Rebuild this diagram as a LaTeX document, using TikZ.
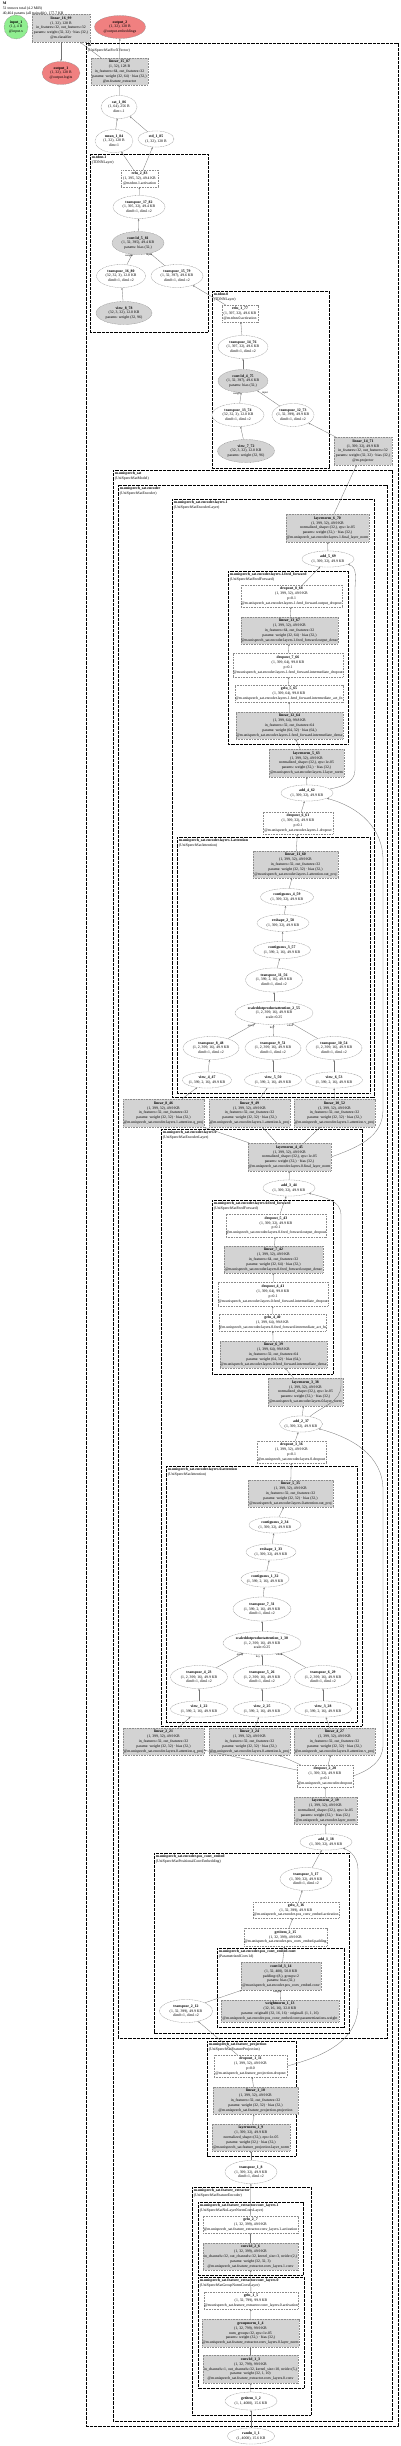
\documentclass[tikz,border=0pt]{standalone}
\usepackage{fontspec}
\setmainfont{Liberation Serif}
\usetikzlibrary{shapes.geometric,arrows.meta}
\definecolor{outred}{HTML}{F08080}
\definecolor{ingreen}{HTML}{90EE90}
\definecolor{modgray}{HTML}{D3D3D3}
\newcommand\T[1]{\makebox[0pt]{\begin{tabular}{@{}c@{}}#1\end{tabular}}}
\catcode`\_=12
\begin{document}
\begin{tikzpicture}[x=1pt,y=-1pt,
  font=\fontsize{3.8}{4.9}\selectfont,
  nb/.style={draw=black!45, dash pattern=on 1pt off 0.6pt, line width=0.3pt, inner sep=0.8pt},
  fn/.style={nb, ellipse, fill=white},
  fng/.style={nb, ellipse, fill=modgray},
  mb/.style={nb, rectangle, fill=white},
  mbg/.style={nb, rectangle, fill=modgray},
  outn/.style={nb, ellipse, fill=outred},
  inn/.style={nb, ellipse, fill=ingreen},
  clus/.style={draw=black, line width=0.65pt, dash pattern=on 0.8pt off 0.5pt},
  clab/.style={anchor=north west, align=left, inner sep=0.6pt},
  edg/.style={draw=black!55, line width=0.3pt, -{Stealth[length=2pt,width=1.6pt]}},
  elab/.style={font=\fontsize{2.8}{3}\selectfont, inner sep=0}]
\useasboundingbox (0,0) rectangle (400,2446);

% ---------- clusters ----------
\draw[clus] (86,43) rectangle (398,2426);
\node[clab] (lab_m) at (87,44) {\textbf{m}\\(UniSpeechSatForXVector)};
\draw[clus] (90,154) rectangle (208,332);
\node[clab] (lab_tdnn1) at (91,155) {\textbf{m.tdnn.1}\\(TDNNLayer)};
\draw[clus] (212,291) rectangle (329,468);
\node[clab] (lab_tdnn0) at (213,292) {\textbf{m.tdnn.0}\\(TDNNLayer)};
\draw[clus] (113,470) rectangle (392,2421);
\node[clab] (lab_us) at (114,471) {\textbf{m.unispeech_sat}\\(UniSpeechSatModel)};
\draw[clus] (118,485) rectangle (387,2038);
\node[clab] (lab_enc) at (119,486) {\textbf{m.unispeech_sat.encoder}\\(UniSpeechSatEncoder)};
\draw[clus] (172,499) rectangle (374,1097);
\node[clab] (lab_l1) at (173,500) {\textbf{m.unispeech_sat.encoder.layers.1}\\(UniSpeechSatEncoderLayer)};
\draw[clus] (228,571) rectangle (348,744);
\node[clab] (lab_l1ff) at (229,572) {\textbf{m.unispeech_sat.encoder.layers.1.feed_forward}\\(UniSpeechSatFeedForward)};
\draw[clus] (177,837) rectangle (370,1093);
\node[clab] (lab_l1at) at (178,838) {\textbf{m.unispeech_sat.encoder.layers.1.attention}\\(UniSpeechSatAttention)};
\draw[clus] (161,1129) rectangle (362,1726);
\node[clab] (lab_l0) at (162,1130) {\textbf{m.unispeech_sat.encoder.layers.0}\\(UniSpeechSatEncoderLayer)};
\draw[clus] (212,1200) rectangle (333,1374);
\node[clab] (lab_l0ff) at (213,1201) {\textbf{m.unispeech_sat.encoder.layers.0.feed_forward}\\(UniSpeechSatFeedForward)};
\draw[clus] (166,1466) rectangle (357,1722);
\node[clab] (lab_l0at) at (167,1467) {\textbf{m.unispeech_sat.encoder.layers.0.attention}\\(UniSpeechSatAttention)};
\draw[clus] (154,1853) rectangle (349,2033);
\node[clab] (lab_pos) at (155,1854) {\textbf{m.unispeech_sat.encoder.pos_conv_embed}\\(UniSpeechSatPositionalConvEmbedding)};
\draw[clus] (217,1948) rectangle (344,2027);
\node[clab] (lab_posc) at (218,1949) {\textbf{m.unispeech_sat.encoder.pos_conv_embed.conv}\\(ParametrizedConv1d)};
\draw[clus] (207,2041) rectangle (296,2156);
\node[clab] (lab_fp) at (208,2042) {\textbf{m.unispeech_sat.feature_projection}\\(UniSpeechSatFeatureProjection)};
\draw[clus] (192,2187) rectangle (311,2415);
\node[clab] (lab_fe) at (193,2188) {\textbf{m.unispeech_sat.feature_extractor}\\(UniSpeechSatFeatureEncoder)};
\draw[clus] (198,2202) rectangle (303,2275);
\node[clab] (lab_cl1) at (199,2203) {\textbf{m.unispeech_sat.feature_extractor.conv_layers.1}\\(UniSpeechSatNoLayerNormConvLayer)};
\draw[clus] (198,2277) rectangle (304,2388);
\node[clab] (lab_cl0) at (199,2278) {\textbf{m.unispeech_sat.feature_extractor.conv_layers.0}\\(UniSpeechSatGroupNormConvLayer)};

\node[clab] (title) at (2,1) {\textbf{M}\\51 tensors total (4.2 MiB)\\40,464 params (all trainable), 177.7 KB};

% ---------- top ----------
\node[inn, minimum width=24, minimum height=24] (input_1) at (16,27) {\T{\textbf{input_1}\\(1,), 4 B\\@input.x}};
\node[mbg, minimum width=58, minimum height=28] (linear_16_99) at (61,28) {\T{\textbf{linear_16_99}\\(1, 32), 128 B\\in_features=32, out_features=32\\params: weight (32, 32) · bias (32,)\\@m.classifier}};
\node[outn, minimum width=51, minimum height=22] (output_2) at (120,27) {\T{\textbf{output_2}\\(1, 32), 128 B\\@output.embeddings}};
\node[outn, minimum width=38, minimum height=22] (output_1) at (61,73) {\T{\textbf{output_1}\\(1, 32), 128 B\\@output.logits}};
\node[mbg, minimum width=57, minimum height=27] (linear_15_87) at (119.5,71.5) {\T{\textbf{linear_15_87}\\(1, 32), 128 B\\in_features=64, out_features=32\\params: weight (32, 64) · bias (32,)\\@m.feature_extractor}};
\node[fn, minimum width=36, minimum height=23] (cat_1_86) at (119,107) {\T{\textbf{cat_1_86}\\(1, 64), 256 B\\dim=-1}};
\node[fn, minimum width=38, minimum height=23] (mean_1_84) at (114,141) {\T{\textbf{mean_1_84}\\(1, 32), 128 B\\dim=1}};
\node[fn, minimum width=36, minimum height=16] (std_1_85) at (156,139) {\T{\textbf{std_1_85}\\(1, 32), 128 B}};

% ---------- tdnn ----------
\node[mb, minimum width=37, minimum height=17] (relu_2_83) at (139.5,178.5) {\T{\textbf{relu_2_83}\\(1, 395, 32), 49.4 KB\\@m.tdnn.1.activation}};
\node[fn, minimum width=52, minimum height=22] (transpose_17_82) at (139,207) {\T{\textbf{transpose_17_82}\\(1, 395, 32), 49.4 KB\\dim0=1, dim1=2}};
\node[fng, minimum width=52, minimum height=22] (conv1d_5_81) at (138,243) {\T{\textbf{conv1d_5_81}\\(1, 32, 395), 49.4 KB\\params: bias (32,)}};
\node[fn, minimum width=49, minimum height=22] (transpose_16_80) at (121,276) {\T{\textbf{transpose_16_80}\\(32, 32, 3), 12.0 KB\\dim0=1, dim1=2}};
\node[fn, minimum width=52, minimum height=22] (transpose_15_79) at (177,276) {\T{\textbf{transpose_15_79}\\(1, 32, 397), 49.6 KB\\dim0=1, dim1=2}};
\node[fng, minimum width=56, minimum height=22] (view_8_78) at (124,313) {\T{\textbf{view_8_78}\\(32, 3, 32), 12.0 KB\\params: weight (32, 96)}};
\node[mb, minimum width=36, minimum height=17] (relu_1_77) at (240,313.5) {\T{\textbf{relu_1_77}\\(1, 397, 32), 49.6 KB\\@m.tdnn.0.activation}};
\node[fn, minimum width=50, minimum height=22] (transpose_14_76) at (243,347) {\T{\textbf{transpose_14_76}\\(1, 397, 32), 49.6 KB\\dim0=1, dim1=2}};
\node[fng, minimum width=50, minimum height=22] (conv1d_4_75) at (243,381) {\T{\textbf{conv1d_4_75}\\(1, 32, 397), 49.6 KB\\params: bias (32,)}};
\node[fn, minimum width=52, minimum height=21] (transpose_13_74) at (238,415) {\T{\textbf{transpose_13_74}\\(32, 32, 3), 12.0 KB\\dim0=1, dim1=2}};
\node[fn, minimum width=42, minimum height=21] (transpose_12_73) at (293,415) {\T{\textbf{transpose_12_73}\\(1, 32, 399), 49.9 KB\\dim0=1, dim1=2}};
\node[fng, minimum width=57, minimum height=23] (view_7_72) at (246,451) {\T{\textbf{view_7_72}\\(32, 3, 32), 12.0 KB\\params: weight (32, 96)}};
\node[mbg, minimum width=58, minimum height=28] (linear_14_71) at (363,451) {\T{\textbf{linear_14_71}\\(1, 399, 32), 49.9 KB\\in_features=32, out_features=32\\params: weight (32, 32) · bias (32,)\\@m.projector}};

% ---------- layers.1 ----------
\node[mbg, minimum width=83, minimum height=28] (layernorm_6_70) at (327.5,528) {\T{\textbf{layernorm_6_70}\\(1, 399, 32), 49.9 KB\\normalized_shape=(32,), eps=1e-05\\params: weight (32,) · bias (32,)\\@m.unispeech_sat.encoder.layers.1.final_layer_norm}};
\node[fn, minimum width=52, minimum height=14] (add_5_69) at (328,559) {\T{\textbf{add_5_69}\\(1, 399, 32), 49.9 KB}};
\node[mb, minimum width=101, minimum height=22] (dropout_8_68) at (291.5,596) {\T{\textbf{dropout_8_68}\\(1, 399, 32), 49.9 KB\\p=0.1\\@m.unispeech_sat.encoder.layers.1.feed_forward.output_dropout}};
\node[mbg, minimum width=97, minimum height=27] (linear_13_67) at (289.5,630.5) {\T{\textbf{linear_13_67}\\(1, 399, 32), 49.9 KB\\in_features=64, out_features=32\\params: weight (32, 64) · bias (32,)\\@m.unispeech_sat.encoder.layers.1.feed_forward.output_dense}};
\node[mb, minimum width=110, minimum height=24] (dropout_7_66) at (288,665) {\T{\textbf{dropout_7_66}\\(1, 399, 64), 99.8 KB\\p=0.1\\@m.unispeech_sat.encoder.layers.1.feed_forward.intermediate_dropout}};
\node[mb, minimum width=108, minimum height=17] (gelu_5_65) at (289,693.5) {\T{\textbf{gelu_5_65}\\(1, 399, 64), 99.8 KB\\@m.unispeech_sat.encoder.layers.1.feed_forward.intermediate_act_fn}};
\node[mbg, minimum width=107, minimum height=27] (linear_12_64) at (289.5,725.5) {\T{\textbf{linear_12_64}\\(1, 399, 64), 99.8 KB\\in_features=32, out_features=64\\params: weight (64, 32) · bias (64,)\\@m.unispeech_sat.encoder.layers.1.feed_forward.intermediate_dense}};
\node[mbg, minimum width=75, minimum height=28] (layernorm_5_63) at (306.5,763) {\T{\textbf{layernorm_5_63}\\(1, 399, 32), 49.9 KB\\normalized_shape=(32,), eps=1e-05\\params: weight (32,) · bias (32,)\\@m.unispeech_sat.encoder.layers.1.layer_norm}};
\node[fn, minimum width=52, minimum height=15] (add_4_62) at (307,793) {\T{\textbf{add_4_62}\\(1, 399, 32), 49.9 KB}};
\node[mb, minimum width=70, minimum height=22] (dropout_6_61) at (298,823) {\T{\textbf{dropout_6_61}\\(1, 399, 32), 49.9 KB\\p=0.1\\@m.unispeech_sat.encoder.layers.1.dropout}};
\node[mbg, minimum width=85, minimum height=27] (linear_11_60) at (295.5,864.5) {\T{\textbf{linear_11_60}\\(1, 399, 32), 49.9 KB\\in_features=32, out_features=32\\params: weight (32, 32) · bias (32,)\\@m.unispeech_sat.encoder.layers.1.attention.out_proj}};
\node[fn, minimum width=53, minimum height=17] (contiguous_4_59) at (287,897) {\T{\textbf{contiguous_4_59}\\(1, 399, 32), 49.9 KB}};
\node[fn, minimum width=52, minimum height=17] (reshape_2_58) at (283,923) {\T{\textbf{reshape_2_58}\\(1, 399, 32), 49.9 KB}};
\node[fn, minimum width=57, minimum height=17] (contiguous_3_57) at (282,950) {\T{\textbf{contiguous_3_57}\\(1, 399, 2, 16), 49.9 KB}};
\node[fn, minimum width=57, minimum height=24] (transpose_11_56) at (274,980) {\T{\textbf{transpose_11_56}\\(1, 399, 2, 16), 49.9 KB\\dim0=1, dim1=2}};
\node[fn, minimum width=78, minimum height=23] (sdpa_2_55) at (274,1013) {\T{\textbf{scaleddotproductattention_2_55}\\(1, 2, 399, 16), 49.9 KB\\scale=0.25}};
\node[fn, minimum width=56, minimum height=22] (transpose_8_48) at (211,1048) {\T{\textbf{transpose_8_48}\\(1, 2, 399, 16), 49.9 KB\\dim0=1, dim1=2}};
\node[fn, minimum width=56, minimum height=22] (transpose_9_51) at (273,1048) {\T{\textbf{transpose_9_51}\\(1, 2, 399, 16), 49.9 KB\\dim0=1, dim1=2}};
\node[fn, minimum width=56, minimum height=22] (transpose_10_54) at (334,1048) {\T{\textbf{transpose_10_54}\\(1, 2, 399, 16), 49.9 KB\\dim0=1, dim1=2}};
\node[fn, minimum width=49, minimum height=16] (view_4_47) at (207,1080) {\T{\textbf{view_4_47}\\(1, 399, 2, 16), 49.9 KB}};
\node[fn, minimum width=57, minimum height=16] (view_5_50) at (273,1080) {\T{\textbf{view_5_50}\\(1, 399, 2, 16), 49.9 KB}};
\node[fn, minimum width=57, minimum height=16] (view_6_53) at (334,1080) {\T{\textbf{view_6_53}\\(1, 399, 2, 16), 49.9 KB}};
\node[mbg, minimum width=81, minimum height=28] (linear_8_46) at (163.5,1113) {\T{\textbf{linear_8_46}\\(1, 399, 32), 49.9 KB\\in_features=32, out_features=32\\params: weight (32, 32) · bias (32,)\\@m.unispeech_sat.encoder.layers.1.attention.q_proj}};
\node[mbg, minimum width=81, minimum height=28] (linear_9_49) at (249.5,1113) {\T{\textbf{linear_9_49}\\(1, 399, 32), 49.9 KB\\in_features=32, out_features=32\\params: weight (32, 32) · bias (32,)\\@m.unispeech_sat.encoder.layers.1.attention.k_proj}};
\node[mbg, minimum width=81, minimum height=28] (linear_10_52) at (334.5,1113) {\T{\textbf{linear_10_52}\\(1, 399, 32), 49.9 KB\\in_features=32, out_features=32\\params: weight (32, 32) · bias (32,)\\@m.unispeech_sat.encoder.layers.1.attention.v_proj}};

% ---------- layers.0 ----------
\node[mbg, minimum width=83, minimum height=28] (layernorm_4_45) at (289.5,1157) {\T{\textbf{layernorm_4_45}\\(1, 399, 32), 49.9 KB\\normalized_shape=(32,), eps=1e-05\\params: weight (32,) · bias (32,)\\@m.unispeech_sat.encoder.layers.0.final_layer_norm}};
\node[fn, minimum width=52, minimum height=15] (add_3_44) at (289,1188) {\T{\textbf{add_3_44}\\(1, 399, 32), 49.9 KB}};
\node[mb, minimum width=100, minimum height=23] (dropout_5_43) at (276,1225.5) {\T{\textbf{dropout_5_43}\\(1, 399, 32), 49.9 KB\\p=0.1\\@m.unispeech_sat.encoder.layers.0.feed_forward.output_dropout}};
\node[mbg, minimum width=99, minimum height=27] (linear_7_42) at (273.5,1259.5) {\T{\textbf{linear_7_42}\\(1, 399, 32), 49.9 KB\\in_features=64, out_features=32\\params: weight (32, 64) · bias (32,)\\@m.unispeech_sat.encoder.layers.0.feed_forward.output_dense}};
\node[mb, minimum width=110, minimum height=24] (dropout_4_41) at (273,1294) {\T{\textbf{dropout_4_41}\\(1, 399, 64), 99.8 KB\\p=0.1\\@m.unispeech_sat.encoder.layers.0.feed_forward.intermediate_dropout}};
\node[mb, minimum width=107, minimum height=17] (gelu_4_40) at (272.5,1322.5) {\T{\textbf{gelu_4_40}\\(1, 399, 64), 99.8 KB\\@m.unispeech_sat.encoder.layers.0.feed_forward.intermediate_act_fn}};
\node[mbg, minimum width=107, minimum height=27] (linear_6_39) at (273.5,1354.5) {\T{\textbf{linear_6_39}\\(1, 399, 64), 99.8 KB\\in_features=32, out_features=64\\params: weight (64, 32) · bias (64,)\\@m.unispeech_sat.encoder.layers.0.feed_forward.intermediate_dense}};
\node[mbg, minimum width=75, minimum height=28] (layernorm_3_38) at (305.5,1392) {\T{\textbf{layernorm_3_38}\\(1, 399, 32), 49.9 KB\\normalized_shape=(32,), eps=1e-05\\params: weight (32,) · bias (32,)\\@m.unispeech_sat.encoder.layers.0.layer_norm}};
\node[fn, minimum width=43, minimum height=15] (add_2_37) at (301,1424) {\T{\textbf{add_2_37}\\(1, 399, 32), 49.9 KB}};
\node[mb, minimum width=69, minimum height=22] (dropout_3_36) at (291.5,1452) {\T{\textbf{dropout_3_36}\\(1, 399, 32), 49.9 KB\\p=0.1\\@m.unispeech_sat.encoder.layers.0.dropout}};
\node[mbg, minimum width=85, minimum height=27] (linear_5_35) at (290.5,1493.5) {\T{\textbf{linear_5_35}\\(1, 399, 32), 49.9 KB\\in_features=32, out_features=32\\params: weight (32, 32) · bias (32,)\\@m.unispeech_sat.encoder.layers.0.attention.out_proj}};
\node[fn, minimum width=52, minimum height=16] (contiguous_2_34) at (275,1525) {\T{\textbf{contiguous_2_34}\\(1, 399, 32), 49.9 KB}};
\node[fn, minimum width=50, minimum height=16] (reshape_1_33) at (271,1552) {\T{\textbf{reshape_1_33}\\(1, 399, 32), 49.9 KB}};
\node[fn, minimum width=48, minimum height=16] (contiguous_1_32) at (265,1579) {\T{\textbf{contiguous_1_32}\\(1, 399, 2, 16), 49.9 KB}};
\node[fn, minimum width=58, minimum height=24] (transpose_7_31) at (262,1609) {\T{\textbf{transpose_7_31}\\(1, 399, 2, 16), 49.9 KB\\dim0=1, dim1=2}};
\node[fn, minimum width=78, minimum height=23] (sdpa_1_30) at (262,1643) {\T{\textbf{scaleddotproductattention_1_30}\\(1, 2, 399, 16), 49.9 KB\\scale=0.25}};
\node[fn, minimum width=57, minimum height=21] (transpose_4_23) at (199,1677) {\T{\textbf{transpose_4_23}\\(1, 2, 399, 16), 49.9 KB\\dim0=1, dim1=2}};
\node[fn, minimum width=57, minimum height=21] (transpose_5_26) at (262,1677) {\T{\textbf{transpose_5_26}\\(1, 2, 399, 16), 49.9 KB\\dim0=1, dim1=2}};
\node[fn, minimum width=57, minimum height=21] (transpose_6_29) at (323,1677) {\T{\textbf{transpose_6_29}\\(1, 2, 399, 16), 49.9 KB\\dim0=1, dim1=2}};
\node[fn, minimum width=57, minimum height=15] (view_1_22) at (199,1709) {\T{\textbf{view_1_22}\\(1, 399, 2, 16), 49.9 KB}};
\node[fn, minimum width=57, minimum height=15] (view_2_25) at (262,1709) {\T{\textbf{view_2_25}\\(1, 399, 2, 16), 49.9 KB}};
\node[fn, minimum width=57, minimum height=15] (view_3_28) at (323,1709) {\T{\textbf{view_3_28}\\(1, 399, 2, 16), 49.9 KB}};
\node[mbg, minimum width=81, minimum height=27] (linear_2_21) at (163.5,1741.5) {\T{\textbf{linear_2_21}\\(1, 399, 32), 49.9 KB\\in_features=32, out_features=32\\params: weight (32, 32) · bias (32,)\\@m.unispeech_sat.encoder.layers.0.attention.q_proj}};
\node[mbg, minimum width=81, minimum height=27] (linear_3_24) at (249.5,1741.5) {\T{\textbf{linear_3_24}\\(1, 399, 32), 49.9 KB\\in_features=32, out_features=32\\params: weight (32, 32) · bias (32,)\\@m.unispeech_sat.encoder.layers.0.attention.k_proj}};
\node[mbg, minimum width=81, minimum height=27] (linear_4_27) at (334.5,1741.5) {\T{\textbf{linear_4_27}\\(1, 399, 32), 49.9 KB\\in_features=32, out_features=32\\params: weight (32, 32) · bias (32,)\\@m.unispeech_sat.encoder.layers.0.attention.v_proj}};

% ---------- encoder front ----------
\node[mb, minimum width=56, minimum height=22] (dropout_2_20) at (325,1776) {\T{\textbf{dropout_2_20}\\(1, 399, 32), 49.9 KB\\p=0.1\\@m.unispeech_sat.encoder.dropout}};
\node[mbg, minimum width=63, minimum height=27] (layernorm_2_19) at (325.5,1810.5) {\T{\textbf{layernorm_2_19}\\(1, 399, 32), 49.9 KB\\normalized_shape=(32,), eps=1e-05\\params: weight (32,) · bias (32,)\\@m.unispeech_sat.encoder.layer_norm}};
\node[fn, minimum width=52, minimum height=15] (add_1_18) at (326,1842) {\T{\textbf{add_1_18}\\(1, 399, 32), 49.9 KB}};
\node[fn, minimum width=52, minimum height=22] (transpose_3_17) at (306,1879) {\T{\textbf{transpose_3_17}\\(1, 399, 32), 49.9 KB\\dim0=1, dim1=2}};
\node[mb, minimum width=86, minimum height=16] (gelu_3_16) at (296,1910) {\T{\textbf{gelu_3_16}\\(1, 32, 399), 49.9 KB\\@m.unispeech_sat.encoder.pos_conv_embed.activation}};
\node[mb, minimum width=83, minimum height=18] (getitem_2_15) at (285.5,1937) {\T{\textbf{getitem_2_15}\\(1, 32, 399), 49.9 KB\\@m.unispeech_sat.encoder.pos_conv_embed.padding}};
\node[mbg, minimum width=80, minimum height=28] (conv1d_3_14) at (281,1976) {\T{\textbf{conv1d_3_14}\\(1, 32, 400), 50.0 KB\\padding=(8,), groups=2\\params: bias (32,)\\@m.unispeech_sat.encoder.pos_conv_embed.conv}};
\node[mbg, minimum width=118, minimum height=22] (weightnorm_1_13) at (280,2011) {\T{\textbf{weightnorm_1_13}\\(32, 16, 16), 32.0 KB\\params: original0 (32, 16, 16) · original1 (1, 1, 16)\\@m.unispeech_sat.encoder.pos_conv_embed.conv.parametrizations.weight}};
\node[fn, minimum width=53, minimum height=22] (transpose_2_12) at (186,2011) {\T{\textbf{transpose_2_12}\\(1, 32, 399), 49.9 KB\\dim0=1, dim1=2}};

% ---------- feature projection / extractor ----------
\node[mb, minimum width=73, minimum height=22] (dropout_1_11) at (250.5,2066) {\T{\textbf{dropout_1_11}\\(1, 399, 32), 49.9 KB\\p=0.0\\@m.unispeech_sat.feature_projection.dropout}};
\node[mbg, minimum width=85, minimum height=27] (linear_1_10) at (255.5,2100.5) {\T{\textbf{linear_1_10}\\(1, 399, 32), 49.9 KB\\in_features=32, out_features=32\\params: weight (32, 32) · bias (32,)\\@m.unispeech_sat.feature_projection.projection}};
\node[mbg, minimum width=78, minimum height=27] (layernorm_1_9) at (251,2137.5) {\T{\textbf{layernorm_1_9}\\(1, 399, 32), 49.9 KB\\normalized_shape=(32,), eps=1e-05\\params: weight (32,) · bias (32,)\\@m.unispeech_sat.feature_projection.layer_norm}};
\node[fn, minimum width=52, minimum height=23] (transpose_1_8) at (251,2172) {\T{\textbf{transpose_1_8}\\(1, 399, 32), 49.9 KB\\dim0=1, dim1=2}};
\node[mb, minimum width=95, minimum height=17] (gelu_2_7) at (250.5,2224.5) {\T{\textbf{gelu_2_7}\\(1, 32, 399), 49.9 KB\\@m.unispeech_sat.feature_extractor.conv_layers.1.activation}};
\node[mbg, minimum width=95, minimum height=27] (conv1d_2_6) at (250.5,2256.5) {\T{\textbf{conv1d_2_6}\\(1, 32, 399), 49.9 KB\\in_channels=32, out_channels=32, kernel_size=3, stride=(2,)\\params: weight (32, 32, 3)\\@m.unispeech_sat.feature_extractor.conv_layers.1.conv}};
\node[mb, minimum width=94, minimum height=17] (gelu_1_5) at (251,2300.5) {\T{\textbf{gelu_1_5}\\(1, 32, 799), 99.9 KB\\@m.unispeech_sat.feature_extractor.conv_layers.0.activation}};
\node[mbg, minimum width=97, minimum height=28] (groupnorm_1_4) at (250.5,2333) {\T{\textbf{groupnorm_1_4}\\(1, 32, 799), 99.9 KB\\num_groups=32, eps=1e-05\\params: weight (32,) · bias (32,)\\@m.unispeech_sat.feature_extractor.conv_layers.0.layer_norm}};
\node[mbg, minimum width=95, minimum height=28] (conv1d_1_3) at (250.5,2369) {\T{\textbf{conv1d_1_3}\\(1, 32, 799), 99.9 KB\\in_channels=1, out_channels=32, kernel_size=10, stride=(5,)\\params: weight (32, 1, 10)\\@m.unispeech_sat.feature_extractor.conv_layers.0.conv}};
\node[fn, minimum width=52, minimum height=18] (getitem_1_2) at (251,2401) {\T{\textbf{getitem_1_2}\\(1, 1, 4000), 15.6 KB}};
\node[fn, minimum width=47, minimum height=16] (randn_1_1) at (251,2436) {\T{\textbf{randn_1_1}\\(1, 4000), 15.6 KB}};

% ---------- edges ----------
\foreach \a/\b in {linear_15_87/output_2, linear_15_87/linear_16_99, linear_16_99/output_1,
  cat_1_86/linear_15_87, mean_1_84/cat_1_86, std_1_85/cat_1_86, relu_2_83/mean_1_84, relu_2_83/std_1_85,
  transpose_17_82/relu_2_83, conv1d_5_81/transpose_17_82, transpose_16_80/conv1d_5_81, transpose_15_79/conv1d_5_81,
  view_8_78/transpose_16_80, relu_1_77/transpose_15_79, transpose_14_76/relu_1_77, conv1d_4_75/transpose_14_76,
  transpose_13_74/conv1d_4_75, transpose_12_73/conv1d_4_75, view_7_72/transpose_13_74, linear_14_71/transpose_12_73,
  layernorm_6_70/linear_14_71, add_5_69/layernorm_6_70, dropout_8_68/add_5_69, linear_13_67/dropout_8_68,
  dropout_7_66/linear_13_67, gelu_5_65/dropout_7_66, linear_12_64/gelu_5_65, layernorm_5_63/linear_12_64,
  add_4_62/layernorm_5_63, dropout_6_61/add_4_62, linear_11_60/dropout_6_61, contiguous_4_59/linear_11_60,
  reshape_2_58/contiguous_4_59, contiguous_3_57/reshape_2_58, transpose_11_56/contiguous_3_57, sdpa_2_55/transpose_11_56,
  transpose_8_48/sdpa_2_55, transpose_9_51/sdpa_2_55, transpose_10_54/sdpa_2_55,
  view_4_47/transpose_8_48, view_5_50/transpose_9_51, view_6_53/transpose_10_54,
  linear_8_46/view_4_47, linear_9_49/view_5_50, linear_10_52/view_6_53,
  layernorm_4_45/linear_8_46, layernorm_4_45/linear_9_49, layernorm_4_45/linear_10_52,
  add_3_44/layernorm_4_45, dropout_5_43/add_3_44, linear_7_42/dropout_5_43, dropout_4_41/linear_7_42,
  gelu_4_40/dropout_4_41, linear_6_39/gelu_4_40, layernorm_3_38/linear_6_39, add_2_37/layernorm_3_38,
  dropout_3_36/add_2_37, linear_5_35/dropout_3_36, contiguous_2_34/linear_5_35, reshape_1_33/contiguous_2_34,
  contiguous_1_32/reshape_1_33, transpose_7_31/contiguous_1_32, sdpa_1_30/transpose_7_31,
  transpose_4_23/sdpa_1_30, transpose_5_26/sdpa_1_30, transpose_6_29/sdpa_1_30,
  view_1_22/transpose_4_23, view_2_25/transpose_5_26, view_3_28/transpose_6_29,
  linear_2_21/view_1_22, linear_3_24/view_2_25, linear_4_27/view_3_28,
  dropout_2_20/linear_2_21, dropout_2_20/linear_3_24, dropout_2_20/linear_4_27,
  layernorm_2_19/dropout_2_20, add_1_18/layernorm_2_19, transpose_3_17/add_1_18, gelu_3_16/transpose_3_17,
  getitem_2_15/gelu_3_16, conv1d_3_14/getitem_2_15, weightnorm_1_13/conv1d_3_14,
  dropout_1_11/transpose_2_12, linear_1_10/dropout_1_11, layernorm_1_9/linear_1_10, transpose_1_8/layernorm_1_9,
  gelu_2_7/transpose_1_8, conv1d_2_6/gelu_2_7, gelu_1_5/conv1d_2_6, groupnorm_1_4/gelu_1_5,
  conv1d_1_3/groupnorm_1_4, getitem_1_2/conv1d_1_3, randn_1_1/getitem_1_2}
  \draw[edg] (\a) -- (\b);

\draw[edg] (transpose_2_12.north east) -- ([xshift=1pt]conv1d_3_14.south west);

% residual curves
\coordinate (r1a) at (355,770); \coordinate (r1b) at (355,590);
\draw[edg] (add_4_62) to[out=10,in=-90] (r1a) -- (r1b) to[out=90,in=-15] (add_5_69);
\coordinate (r2a) at (383,1110); \coordinate (r2b) at (383,860);
\draw[edg] (layernorm_4_45.east) to[out=20,in=-90] (r2a) -- (r2b) to[out=90,in=-15] (add_4_62);
\coordinate (r3a) at (341,1385); \coordinate (r3b) at (341,1215);
\draw[edg] (add_2_37) to[out=40,in=-90] (r3a) -- (r3b) to[out=90,in=-15] (add_3_44);
\coordinate (r4a) at (383,1745); \coordinate (r4b) at (383,1490);
\draw[edg] (dropout_2_20.east) to[out=20,in=-90] (r4a) -- (r4b) to[out=90,in=-15] (add_2_37);
\coordinate (r5a) at (358,2005); \coordinate (r5b) at (358,1870);
\draw[edg] (dropout_1_11.east) to[out=15,in=-90] (r5a) -- (r5b) to[out=90,in=-20] (add_1_18);

% edge labels
\node[elab] (l_w5) at (129,256) {weight};
\node[elab] (l_i5) at (149,255) {input};
\node[elab] (l_w4) at (237,394) {weight};
\node[elab] (l_i4) at (265,393) {input};
\node[elab] (l_q2) at (251,1026) {query};
\node[elab] (l_k2) at (272,1028) {key};
\node[elab] (l_v2) at (290,1026) {value};
\node[elab] (l_q1) at (240,1655) {query};
\node[elab] (l_k1) at (258,1657) {key};
\node[elab] (l_v1) at (279,1655) {value};
\node[elab] (l_w3) at (277,1992) {weight};
\end{tikzpicture}
\end{document}
